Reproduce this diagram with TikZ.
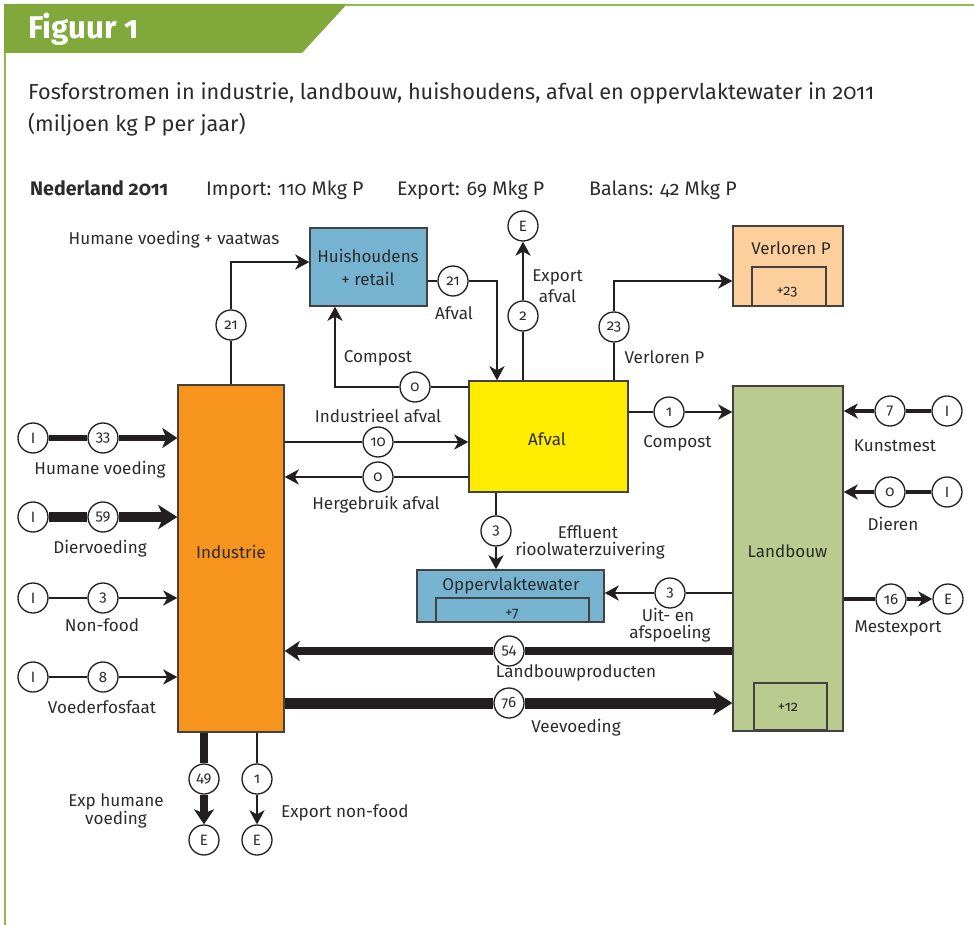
\documentclass[tikz,border=0pt]{standalone}
\usepackage{fontspec}
\setmainfont{Fira Sans}[Numbers=OldStyle]
\usetikzlibrary{arrows.meta}

\definecolor{bandgreen}{HTML}{80A83A}
\definecolor{framegreen}{HTML}{8FBD4C}
\definecolor{inkc}{HTML}{231F20}
\definecolor{txtc}{HTML}{2B2B2B}
\definecolor{indorange}{HTML}{F7941E}
\definecolor{hhblue}{HTML}{76B3D0}
\definecolor{afvyellow}{HTML}{FFED00}
\definecolor{lostpeach}{HTML}{FDCF9D}
\definecolor{lbgreen}{HTML}{B9CB8F}

\tikzset{
  box/.style={draw=inkc!85, line width=1.4pt, inner sep=0pt, rectangle},
  valnode/.style={circle, draw=inkc, line width=1.3pt, fill=white, minimum size=30pt, inner sep=0pt, text=txtc, font=\fontsize{15}{16}\selectfont},
  lbl/.style={anchor=base, inner sep=0pt, text=txtc, align=center, font=\fontsize{17.1}{19}\selectfont},
  boxlbl/.style={anchor=base, inner sep=0pt, text=txtc, font=\fontsize{17}{19}\selectfont},
  smallnum/.style={anchor=base, inner sep=0pt, text=txtc, font=\fontsize{14.5}{16}\selectfont},
  hdr/.style={anchor=base west, inner sep=0pt, text=txtc, font=\fontsize{19.6}{22}\selectfont},
  flow/.style={draw=inkc, line width=#1},
  flow/.default=2.5pt,
  tipthin/.style={-{Stealth[length=14pt,width=15pt,inset=4pt]}},
  tipmid/.style={-{Stealth[length=15pt,width=20pt,inset=4pt]}},
  tipbig/.style={-{Stealth[length=19pt,width=24pt,inset=5pt]}}
}

\begin{document}
\begin{tikzpicture}[x=1pt,y=-1pt]
    \useasboundingbox (0,0) rectangle (974,925);
    % kader en kop
    \fill[bandgreen] (4,4) -- (347,4) -- (302,53) -- (4,53) -- cycle;
    \draw[framegreen, line width=2pt] (346,5) -- (974,5);
    \draw[framegreen, line width=2pt] (5,53) -- (5,925);
    \node[anchor=base west, inner sep=0pt, text=white, font=\bfseries\fontsize{31.4}{33}\selectfont] (fig) at (28,39) {Figuur 1};
    \node[anchor=base west, inner sep=0pt, text=txtc, font=\fontsize{21.7}{25}\selectfont] (tit1) at (28,100) {Fosforstromen in industrie, landbouw, huishoudens, afval en oppervlaktewater in 2011};
    \node[anchor=base west, inner sep=0pt, text=txtc, font=\fontsize{21.7}{25}\selectfont] (tit2) at (28,132) {(miljoen kg P per jaar)};
    \node[hdr, font=\bfseries\fontsize{19.6}{22}\selectfont] (nl) at (30,196) {Nederland 2011};
    \node[hdr] (imp) at (206,196) {Import: 110 Mkg P};
    \node[hdr] (exp) at (397,196) {Export: 69 Mkg P};
    \node[hdr] (bal) at (589,196) {Balans: 42 Mkg P};

    % blokken
    \node[box, fill=indorange, minimum width=106pt, minimum height=347pt] (ind) at (231,558.5) {};
    \node[box, fill=hhblue, minimum width=117pt, minimum height=78pt] (hh) at (368.5,267) {};
    \node[box, fill=afvyellow, minimum width=159pt, minimum height=111pt] (afv) at (548.5,436.5) {};
    \node[box, fill=lostpeach, minimum width=110pt, minimum height=80pt] (vp) at (788,266) {};
    \node[box, fill=lbgreen, minimum width=110pt, minimum height=345pt] (lb) at (788,558.5) {};
    \node[box, fill=hhblue, minimum width=187pt, minimum height=52pt] (opp) at (510.5,596) {};
    \node[box, minimum width=74pt, minimum height=39pt] (vpin) at (789,286.5) {};
    \node[box, minimum width=73pt, minimum height=47pt] (lbin) at (790.5,706.5) {};
    \node[box, minimum width=153pt, minimum height=24pt] (oppin) at (512.5,610) {};

    \node[boxlbl] (indl) at (231,558) {Industrie};
    \node[boxlbl] (hhl1) at (368,263) {Huishoudens};
    \node[boxlbl] (hhl2) at (368,285) {+ retail};
    \node[boxlbl] (afvl) at (547,445) {Afval};
    \node[boxlbl] (vpl) at (791,255) {Verloren P};
    \node[boxlbl] (lbl) at (787.5,557) {Landbouw};
    \node[boxlbl] (oppl) at (511,590) {Oppervlaktewater};
    \node[smallnum] (vpn) at (787,295) {+23};
    \node[smallnum] (lbn) at (788,711) {+12};
    \node[smallnum] (oppn) at (512,617) {+7};

    % import naar industrie
    \node[valnode] (ihv) at (33,438) {I};
    \node[valnode] (vhv) at (103,438) {33};
    \node[valnode] (idv) at (33,517) {I};
    \node[valnode] (vdv) at (103,517) {59};
    \node[valnode] (inf) at (33,598) {I};
    \node[valnode] (vnf) at (103,598) {3};
    \node[valnode] (ivf) at (33,677) {I};
    \node[valnode] (vvf) at (103,677) {8};
    \draw[flow=6pt] (ihv) -- (vhv);
    \draw[flow=6pt, tipmid] (vhv) -- (ind.west |- vhv);
    \draw[flow=10pt] (idv) -- (vdv);
    \draw[flow=10pt, tipbig] (vdv) -- (ind.west |- vdv);
    \draw[flow] (inf) -- (vnf);
    \draw[flow, tipthin] (vnf) -- (ind.west |- vnf);
    \draw[flow] (ivf) -- (vvf);
    \draw[flow, tipthin] (vvf) -- (ind.west |- vvf);
    \node[lbl] (lhv) at (100,474) {Humane voeding};
    \node[lbl] (ldv) at (100,553) {Diervoeding};
    \node[lbl] (lnf) at (102,631) {Non-food};
    \node[lbl] (lvf) at (102,713) {Voederfosfaat};

    % huishoudens en afval
    \node[valnode] (vhh) at (231,325) {21};
    \draw[flow] (ind.north -| vhh) -- (vhh);
    \draw[flow, tipthin] (vhh) |- ([yshift=5pt]hh.west);
    \node[lbl] (lhh) at (174,245) {Humane voeding + vaatwas};

    \node[valnode] (vafh) at (453,281) {21};
    \draw[flow] (hh.east |- vafh) -- (vafh);
    \draw[flow, tipthin] (vafh) -| ([xshift=-51.5pt]afv.north);
    \node[lbl] (lafh) at (454,319) {Afval};

    \node[valnode] (vcmp) at (415,387) {0};
    \draw[flow] (afv.west |- vcmp) -- (vcmp);
    \draw[flow, tipthin] (vcmp) -| ([xshift=-33.5pt]hh.south);
    \node[lbl] (lcmp) at (378,362) {Compost};

    \node[valnode] (eexa) at (523,226) {E};
    \node[valnode] (vexa) at (523,316) {2};
    \draw[flow] (afv.north -| vexa) -- (vexa);
    \draw[flow, tipthin] (vexa) -- (eexa);
    \node[lbl] (lexa1) at (557.5,281) {Export};
    \node[lbl] (lexa2) at (557.5,302) {afval};

    \node[valnode] (vvp) at (614,327) {23};
    \draw[flow] (afv.north -| vvp) -- (vvp);
    \draw[flow, tipthin] (vvp) |- ([yshift=-15pt]vp.west);
    \node[lbl] (lvp) at (664.5,363) {Verloren P};

    \node[valnode] (vind) at (378,442) {10};
    \draw[flow] (ind.east |- vind) -- (vind);
    \draw[flow, tipthin] (vind) -- (afv.west |- vind);
    \node[lbl] (lind) at (378,422) {Industrieel afval};

    \node[valnode] (vher) at (378,477) {0};
    \draw[flow] (afv.west |- vher) -- (vher);
    \draw[flow, tipthin] (vher) -- (ind.east |- vher);
    \node[lbl] (lher) at (376,509) {Hergebruik afval};

    \node[valnode] (vcmr) at (669,412) {1};
    \draw[flow] (afv.east |- vcmr) -- (vcmr);
    \draw[flow, tipthin] (vcmr) -- (lb.west |- vcmr);
    \node[lbl] (lcmr) at (677.5,447) {Compost};

    \node[valnode] (veff) at (496,531) {3};
    \draw[flow] (afv.south -| veff) -- (veff);
    \draw[flow, tipthin] (veff) -- (opp.north -| veff);
    \node[lbl] (leff1) at (588,538) {Effluent};
    \node[lbl] (leff2) at (590,555) {rioolwaterzuivering};

    % landbouw
    \node[valnode] (vuit) at (670,593) {3};
    \draw[flow] (lb.west |- vuit) -- (vuit);
    \draw[flow, tipthin] (vuit) -- (opp.east |- vuit);
    \node[lbl] (luit1) at (668,621) {Uit- en};
    \node[lbl] (luit2) at (670,638) {afspoeling};

    \node[valnode] (vlbp) at (509,651) {54};
    \draw[flow=8pt] (lb.west |- vlbp) -- (vlbp);
    \draw[flow=8pt, tipmid] (vlbp) -- (ind.east |- vlbp);
    \node[lbl] (llbp) at (576,677) {Landbouwproducten};

    \node[valnode] (vvee) at (509,703) {76};
    \draw[flow=11pt] (ind.east |- vvee) -- (vvee);
    \draw[flow=11pt, tipbig] (vvee) -- (lb.west |- vvee);
    \node[lbl] (lvee) at (576,732) {Veevoeding};

    \node[valnode] (ikm) at (947,411) {I};
    \node[valnode] (vkm) at (890,411) {7};
    \draw[flow=3.5pt] (ikm) -- (vkm);
    \draw[flow=3.5pt, tipthin] (vkm) -- (lb.east |- vkm);
    \node[lbl] (lkm) at (895,451) {Kunstmest};

    \node[valnode] (idr) at (947,492) {I};
    \node[valnode] (vdr) at (890,492) {0};
    \draw[flow=3.5pt] (idr) -- (vdr);
    \draw[flow=3.5pt, tipthin] (vdr) -- (lb.east |- vdr);
    \node[lbl] (ldr) at (893,530) {Dieren};

    \node[valnode] (vmex) at (891,599) {16};
    \node[valnode] (emex) at (948,599) {E};
    \draw[flow=3.5pt] (lb.east |- vmex) -- (vmex);
    \draw[flow=3.5pt, tipthin] (vmex) -- (emex);
    \node[lbl] (lmex) at (898,632) {Mestexport};

    % export uit industrie
    \node[valnode] (vexh) at (204,779) {49};
    \node[valnode] (eexh) at (204,840) {E};
    \draw[flow=8pt] (ind.south -| vexh) -- (vexh);
    \draw[flow=8pt, tipmid] (vexh) -- (eexh);
    \node[lbl] (lexh1) at (116,806) {Exp humane};
    \node[lbl] (lexh2) at (116,824) {voeding};

    \node[valnode] (vexn) at (257,779) {1};
    \node[valnode] (eexn) at (257,840) {E};
    \draw[flow] (ind.south -| vexn) -- (vexn);
    \draw[flow, tipthin] (vexn) -- (eexn);
    \node[lbl, anchor=base west] (lexn) at (281,817) {Export non-food};
\end{tikzpicture}
\end{document}
